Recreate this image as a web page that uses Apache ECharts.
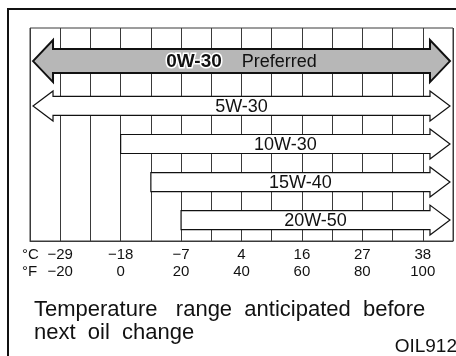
<!DOCTYPE html>
<html>
<head>
<meta charset="utf-8">
<script src="https://cdn.jsdelivr.net/npm/echarts@6/dist/echarts.min.js"></script>
<style>
  html, body { margin: 0; padding: 0; background: #fff; }
  #chart { width: 456px; height: 356px; }
</style>
</head>
<body>
<div id="chart"></div>
<script>
// oil grades and their temperature ranges (°F)
const oils = ['0W-30', '5W-30', '10W-30', '15W-40', '20W-50'];
const lowF = [-29, -29, 0, 10, 20];
const highF = [109, 109, 109, 109, 109];
const rows = [4.73, 3.55, 2.55, 1.55, 0.55];
const twoWay = [1, 1, 0, 0, 0];
const preferredNote = 'Preferred';

// tick labels
const fTicks = [-20, 0, 20, 40, 60, 80, 100];
const fLabels = ['\u221220', '0', '20', '40', '60', '80', '100'];
const cLabels = ['\u221229', '\u221218', '\u22127', '4', '16', '27', '38'];

const FONT = '"Liberation Sans", Arial, sans-serif';
const INK = '#111';

const chart = echarts.init(document.getElementById('chart'));

// 箭头绘制
function renderArrow(params, api) {
    const i = params.dataIndex;
    const p0 = api.coord([api.value(0), api.value(2)]);
    const p1 = api.coord([api.value(1), api.value(2)]);
    const pref = i === 0;
    const L = p0[0], R = p1[0], cy = p0[1];
    const bh = pref ? 12 : 9.5;
    const hh = pref ? 21 : 15;
    const hl = 20;
    let pts;
    if (api.value(3)) {
        pts = [[L, cy], [L + hl, cy - hh], [L + hl, cy - bh], [R - hl, cy - bh], [R - hl, cy - hh], [R, cy],
               [R - hl, cy + hh], [R - hl, cy + bh], [L + hl, cy + bh], [L + hl, cy + hh]];
    } else {
        pts = [[L, cy - bh], [R - hl, cy - bh], [R - hl, cy - hh], [R, cy],
               [R - hl, cy + hh], [R - hl, cy + bh], [L, cy + bh]];
    }
    const cx = (L + R) / 2;
    const label = pref
        ? {
            type: 'text',
            style: {
                text: '{b|' + oils[i] + '}    {n|' + preferredNote + '}',
                x: cx, y: cy + 1,
                align: 'center', verticalAlign: 'middle',
                fontSize: 18, fontFamily: FONT, fill: INK,
                rich: {
                    b: { fontSize: 19, fontWeight: 'bold', fontFamily: FONT, fill: INK, stroke: '#fff', lineWidth: 3 },
                    n: { fontSize: 18, fontFamily: FONT, fill: INK }
                }
            }
        }
        : {
            type: 'text',
            style: {
                text: oils[i], x: cx, y: cy + 1,
                align: 'center', verticalAlign: 'middle',
                fontSize: 18, fontFamily: FONT, fill: INK
            }
        };
    return {
        type: 'group',
        children: [
            {
                type: 'polygon',
                shape: { points: pts },
                style: {
                    fill: pref ? '#b7b7b7' : '#fff',
                    stroke: INK,
                    lineWidth: pref ? 2 : 1.2
                }
            },
            label
        ]
    };
}

const option = {
    animation: false,
    grid: {
        left: 30, right: 3, top: 28, bottom: 115,
        show: true, borderColor: '#3a3a3a', borderWidth: 1, backgroundColor: 'transparent'
    },
    xAxis: {
        type: 'value',
        min: -30, max: 110, interval: 10,
        axisLine: { show: true, lineStyle: { color: '#3a3a3a', width: 1 } },
        axisTick: { show: false },
        splitLine: { show: true, lineStyle: { color: '#3a3a3a', width: 1 } },
        axisLabel: {
            margin: 5,
            hideOverlap: false,
            showMinLabel: true,
            showMaxLabel: true,
            formatter: (v) => {
                const k = fTicks.indexOf(v);
                return k < 0 ? '' : '{c|' + cLabels[k] + '}\n{f|' + fLabels[k] + '}';
            },
            rich: {
                c: { fontSize: 15, lineHeight: 17, color: INK, fontFamily: FONT },
                f: { fontSize: 15, lineHeight: 17, color: INK, fontFamily: FONT }
            }
        }
    },
    yAxis: {
        type: 'value', min: 0, max: 5.6,
        show: false,
        splitLine: { show: false }
    },
    series: [{
        type: 'custom',
        renderItem: renderArrow,
        encode: { x: [0, 1], y: 2 },
        data: oils.map((o, i) => [lowF[i], highF[i], rows[i], twoWay[i]]),
        z: 5
    }],
    graphic: [
        {
            type: 'rect', silent: true, z: 0,
            shape: { x: 8, y: 9, width: 460, height: 400 },
            style: { fill: 'none', stroke: INK, lineWidth: 2 }
        },
        {
            type: 'text', x: 22, y: 246,
            style: {
                text: '\u00b0C\n\u00b0F', fontSize: 15, lineHeight: 17,
                fontFamily: FONT, fill: INK, align: 'left', verticalAlign: 'top'
            }
        },
        {
            type: 'text', x: 34, y: 298,
            style: {
                text: 'Temperature   range  anticipated  before\nnext  oil  change',
                fontSize: 22, lineHeight: 23,
                fontFamily: FONT, fill: INK, align: 'left', verticalAlign: 'top'
            }
        },
        {
            type: 'text', x: 457, y: 337,
            style: {
                text: 'OIL912', fontSize: 19,
                fontFamily: FONT, fill: INK, align: 'right', verticalAlign: 'top'
            }
        }
    ]
};

chart.setOption(option);
</script>
</body>
</html>
